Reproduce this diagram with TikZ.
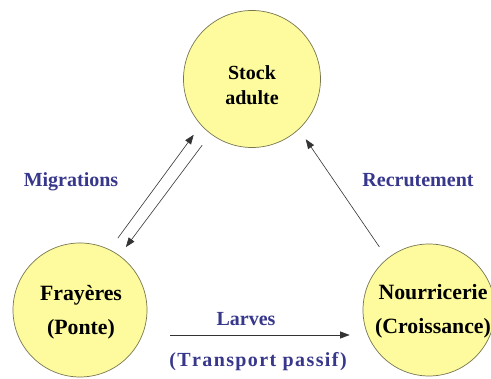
\documentclass[tikz,border=0pt]{standalone}
\usepackage{fontspec}
\setmainfont{Liberation Serif}
\usetikzlibrary{arrows.meta}
\definecolor{circfill}{RGB}{253,251,158}
\definecolor{circline}{RGB}{120,118,80}
\definecolor{lblblue}{RGB}{55,55,140}
\begin{document}
\begin{tikzpicture}[x=1pt,y=-1pt,
  zone/.style={circle, draw=circline, line width=0.7pt, fill=circfill, inner sep=0pt},
  ztext/.style={font=\bfseries\fontsize{21.8}{34}\selectfont, align=center, text=black},
  lbl/.style={font=\bfseries\fontsize{20}{24}\selectfont, text=lblblue},
  arr/.style={draw=black!80, line width=0.6pt, -{Triangle[length=9.5pt,width=7pt]}}]
\useasboundingbox (0,0) rectangle (491,379);
\fill[white] (0,0) rectangle (491,379);
% zones
\node[zone, minimum size=137pt] (stock) at (252,79) {};
\node[ztext, font=\bfseries\fontsize{20}{25}\selectfont] (stocktxt) at (252,85) {Stock\\adulte};
\node[zone, minimum size=134pt] (fr) at (80,310) {};
\node[ztext] (frtxt) at (81,312.5) {Frayères\\(Ponte)};
\node[zone, minimum size=132pt] (nour) at (429,310) {};
\node[ztext] (nourtxt) at (433,311.5) {Nourricerie\\(Croissance)};
% connectors
\draw[arr, shorten <=14pt, shorten >=12pt] (fr.64) -- (stock.222);
\draw[arr, shorten <=14pt, shorten >=10.5pt] (stock.233) -- (fr.54);
\draw[arr, shorten <=14pt, shorten >=12pt] (nour.129) -- (stock.-47);
\draw[arr] ([shift={(23pt,-25pt)}]fr.east) -- ([shift={(-13pt,-25pt)}]nour.west);
% labels
\node[lbl] (migr) at (71,182) {Migrations};
\node[lbl] (recr) at (418,180) {Recrutement};
\node[lbl] (larv) at (246,319) {Larves};
\node[lbl] (transp) at (258,362) {\addfontfeatures{LetterSpace=7,Kerning=Off}(Transport passif)};
\end{tikzpicture}
\end{document}
